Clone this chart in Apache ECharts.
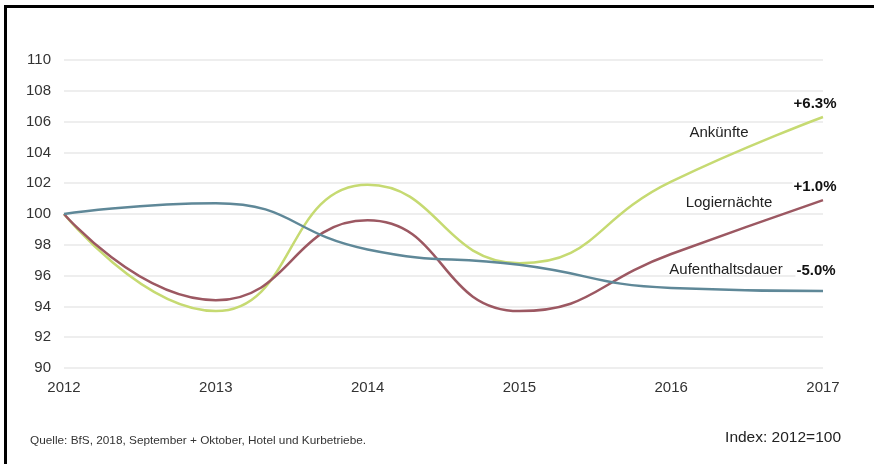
<!DOCTYPE html>
<html>
<head>
<meta charset="utf-8">
<script src="https://cdn.jsdelivr.net/npm/echarts@6/dist/echarts.min.js"></script>
<style>
html,body{margin:0;padding:0;background:#fff;}
#c{width:874px;height:464px;}
</style>
</head>
<body>
<div id="c"></div>
<script>
var years = ['2012','2013','2014','2015','2016','2017'];
var ankuenfte = [100, 93.7, 101.9, 96.8, 102.1, 106.3];
var logiernaechte = [100, 94.4, 99.6, 93.7, 97.4, 100.9];
var aufenthaltsdauer = [100, 100.7, 97.7, 96.7, 95.2, 95.0];
var seriesNames = ['Ankünfte', 'Logiernächte', 'Aufenthaltsdauer'];
var changeLabels = ['+6.3%', '+1.0%', '-5.0%'];
var yTicks = [90, 92, 94, 96, 98, 100, 102, 104, 106, 108, 110];

var chart = echarts.init(document.getElementById('c'));
var font = 'Liberation Sans, Arial, sans-serif';
function line(name, data, color) {
  return {
    name: name, type: 'line', data: data, smooth: 0.5, z: 2,
    symbol: 'none', lineStyle: {color: color, width: 2.5}, itemStyle: {color: color}
  };
}
function pct(text, x, y) {
  return {type: 'text', x: x, y: y, z: 10, style: {text: text, fontSize: 15, fontWeight: 'bold', fontFamily: font, fill: '#111', align: 'center', verticalAlign: 'middle', backgroundColor: '#fff', padding: [0, 1]}};
}
chart.setOption({
  animation: false,
  grid: {left: 64, right: 51, top: 60, bottom: 96},
  xAxis: {
    type: 'category', data: years, boundaryGap: false,
    axisLine: {show: false}, axisTick: {show: false},
    axisLabel: {color: '#333', fontSize: 15, fontFamily: font, margin: 12}
  },
  yAxis: {
    type: 'value', min: 90, max: 110, interval: 2,
    axisLine: {show: false}, axisTick: {show: false},
    axisLabel: {color: '#333', fontSize: 15, fontFamily: font, margin: 13},
    splitLine: {lineStyle: {color: '#e8e8e8', width: 1.5}}
  },
  series: [
    line(seriesNames[0], ankuenfte, '#c6da72'),
    line(seriesNames[1], logiernaechte, '#9c5862'),
    line(seriesNames[2], aufenthaltsdauer, '#5f8898')
  ],
  graphic: [
    {type: 'rect', shape: {x: 4, y: 5, width: 3, height: 459}, style: {fill: '#000'}},
    {type: 'rect', shape: {x: 4, y: 5, width: 870, height: 3}, style: {fill: '#000'}},
    {type: 'text', x: 719, y: 133, style: {text: seriesNames[0], fontSize: 15, fontFamily: font, fill: '#222', align: 'center', verticalAlign: 'middle'}},
    {type: 'text', x: 729, y: 203, style: {text: seriesNames[1], fontSize: 15, fontFamily: font, fill: '#222', align: 'center', verticalAlign: 'middle'}},
    {type: 'text', x: 726, y: 270, style: {text: seriesNames[2], fontSize: 15, fontFamily: font, fill: '#222', align: 'center', verticalAlign: 'middle'}},
    pct(changeLabels[0], 815, 104),
    pct(changeLabels[1], 815, 187),
    pct(changeLabels[2], 816, 271),
    {type: 'text', x: 30, y: 441, style: {text: 'Quelle: BfS, 2018, September + Oktober, Hotel und Kurbetriebe.', fontSize: 11.8, fontFamily: font, fill: '#333', verticalAlign: 'middle'}},
    {type: 'text', x: 841, y: 438, style: {text: 'Index: 2012=100', fontSize: 15.5, fontFamily: font, fill: '#222', align: 'right', verticalAlign: 'middle'}}
  ]
});
</script>
</body>
</html>
